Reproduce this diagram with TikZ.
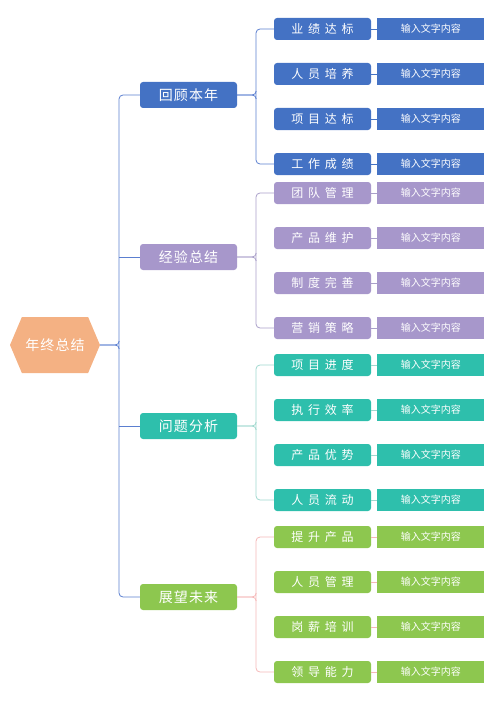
\documentclass[tikz,border=0pt]{standalone}
\usepackage{fontspec}
\setmainfont{Noto Sans CJK SC}
\newfontfamily\catfont[LetterSpace=8]{Noto Sans CJK SC}
\newfontfamily\subfont[LetterSpace=40]{Noto Sans CJK SC}
\usepackage{tikz}
\usetikzlibrary{positioning,shapes.symbols}

\definecolor{rootorange}{HTML}{F4B183}
\definecolor{cblue}{HTML}{4472C4}
\definecolor{cpurple}{HTML}{A797CB}
\definecolor{cteal}{HTML}{2EBFAC}
\definecolor{cgreen}{HTML}{8DC74F}
\definecolor{lblue}{HTML}{5B7FD0}
\definecolor{lpurple}{HTML}{A99FC9}
\definecolor{lteal}{HTML}{9FD8CE}
\definecolor{lpink}{HTML}{F5B8B8}

\tikzset{
  rootnode/.style={shape=signal, signal to=east and west, signal pointer angle=134,
    fill=rootorange, text=white, minimum width=90pt, minimum height=56pt,
    inner sep=0pt, font=\catfont\fontsize{14}{16}\selectfont},
  catbox/.style={fill=#1, text=white, rounded corners=3pt, minimum width=97pt,
    minimum height=26pt, inner sep=0pt, font=\catfont\fontsize{14}{16}\selectfont},
  subbox/.style={fill=#1, text=white, rounded corners=3pt, minimum width=97pt,
    minimum height=22pt, inner sep=0pt, font=\subfont\fontsize{12}{14}\selectfont},
  infobox/.style={fill=#1, text=white, minimum width=107pt, minimum height=22pt,
    inner sep=0pt, font=\fontsize{10}{12}\selectfont},
  link/.style={draw=#1, line width=0.8pt, rounded corners=4pt}
}

\begin{document}
\begin{tikzpicture}[x=1pt,y=-1pt]
\useasboundingbox (0,0) rectangle (500,706);

\node[rootnode] (root) at (55,345) {年终总结};
\node[catbox=cblue] (review) at (188.5,95) {回顾本年};
\node[catbox=cpurple] (lesson) at (188.5,257) {经验总结};
\node[catbox=cteal] (issue) at (188.5,426) {问题分析};
\node[catbox=cgreen] (future) at (188.5,597) {展望未来};

\coordinate (trunk) at (119,345);
\draw[link=lblue] (review.west) -| (trunk) |- (future.west);
\draw[link=lblue] (trunk |- lesson.west) -- (lesson.west);
\draw[link=lblue] (trunk |- issue.west) -- (issue.west);
\draw[lblue, line width=0.8pt] (root.east) -- ++(15,0) to[out=0,in=-90] ++(4,-4);
\draw[lblue, line width=0.8pt] (root.east) -- ++(15,0) to[out=0,in=90] ++(4,4);

\foreach \t [count=\i from 0] in {业绩达标,人员培养,项目达标,工作成绩} {
  \node[subbox=cblue] (review\i) at (322.5,29+45*\i) {\t};
  \node[infobox=cblue, right=6pt of review\i] (reviewinfo\i) {输入文字内容};
  \draw[cblue] (review\i) -- (reviewinfo\i);
}
\foreach \t [count=\i from 0] in {团队管理,产品维护,制度完善,营销策略} {
  \node[subbox=cpurple] (lesson\i) at (322.5,193+45*\i) {\t};
  \node[infobox=cpurple, right=6pt of lesson\i] (lessoninfo\i) {输入文字内容};
  \draw[lpurple] (lesson\i) -- (lessoninfo\i);
}
\foreach \t [count=\i from 0] in {项目进度,执行效率,产品优势,人员流动} {
  \node[subbox=cteal] (issue\i) at (322.5,365+45*\i) {\t};
  \node[infobox=cteal, right=6pt of issue\i] (issueinfo\i) {输入文字内容};
  \draw[lteal] (issue\i) -- (issueinfo\i);
}
\foreach \t [count=\i from 0] in {提升产品,人员管理,岗薪培训,领导能力} {
  \node[subbox=cgreen] (future\i) at (322.5,537+45*\i) {\t};
  \node[infobox=cgreen, right=6pt of future\i] (futureinfo\i) {输入文字内容};
  \draw[lpink] (future\i) -- (futureinfo\i);
}

\coordinate (reviewfork) at (256,95);
\draw[link=lblue] (review0.west) -| (reviewfork) |- (review3.west);
\draw[lblue, line width=0.8pt] (review.east) -- ++(15,0) to[out=0,in=-90] ++(4,-4);
\draw[lblue, line width=0.8pt] (review.east) -- ++(15,0) to[out=0,in=90] ++(4,4);

\coordinate (lessonfork) at (256,257);
\draw[link=lpurple] (lesson0.west) -| (lessonfork) |- (lesson3.west);
\draw[lpurple, line width=0.8pt] (lesson.east) -- ++(15,0) to[out=0,in=-90] ++(4,-4);
\draw[lpurple, line width=0.8pt] (lesson.east) -- ++(15,0) to[out=0,in=90] ++(4,4);

\coordinate (issuefork) at (256,426);
\draw[link=lteal] (issue0.west) -| (issuefork) |- (issue3.west);
\draw[lteal, line width=0.8pt] (issue.east) -- ++(15,0) to[out=0,in=-90] ++(4,-4);
\draw[lteal, line width=0.8pt] (issue.east) -- ++(15,0) to[out=0,in=90] ++(4,4);

\coordinate (futurefork) at (256,597);
\draw[link=lpink] (future0.west) -| (futurefork) |- (future3.west);
\draw[lpink, line width=0.8pt] (future.east) -- ++(15,0) to[out=0,in=-90] ++(4,-4);
\draw[lpink, line width=0.8pt] (future.east) -- ++(15,0) to[out=0,in=90] ++(4,4);
\end{tikzpicture}
\end{document}
